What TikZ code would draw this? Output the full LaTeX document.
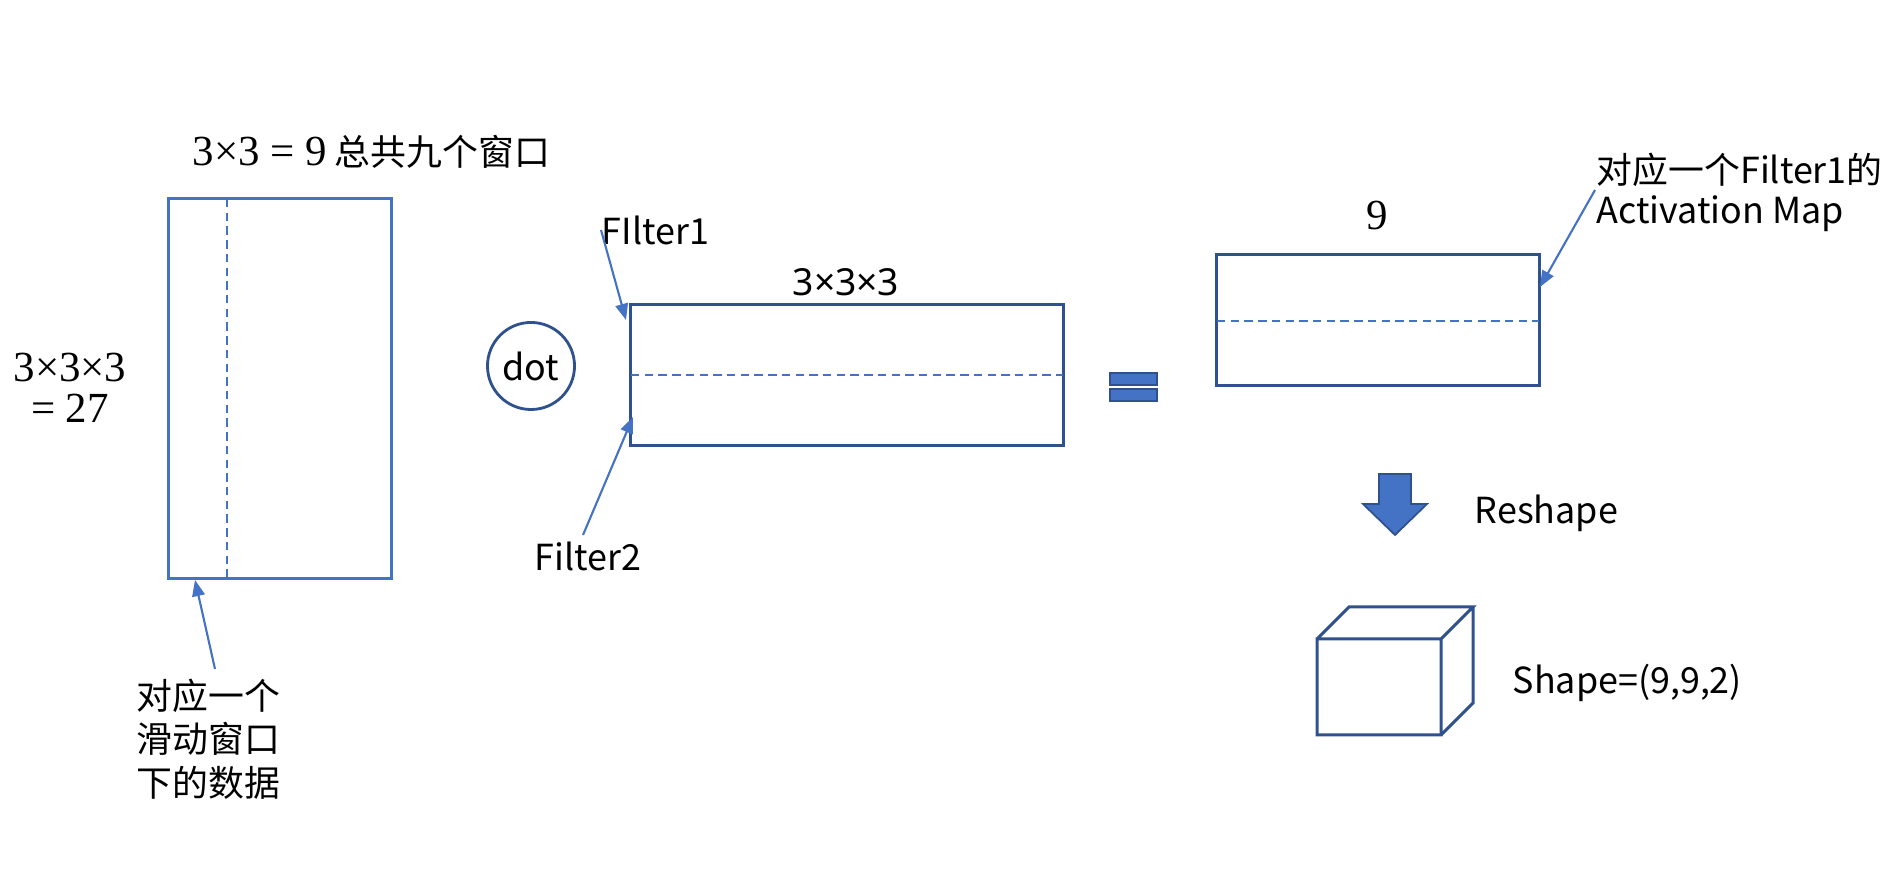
\documentclass[tikz,border=0pt]{standalone}
\usepackage{fontspec}
\setmainfont{Noto Sans CJK SC}
\newfontfamily\numfont{Liberation Serif}
\newfontfamily\latinsans{Noto Sans}
\usetikzlibrary{arrows.meta}
\definecolor{accent}{HTML}{4472C4}
\definecolor{outline}{HTML}{2F528F}
\begin{document}
\begin{tikzpicture}[x=0.01cm,y=-0.01cm,
  txt/.style={font=\fontsize{10.2}{12.4}\selectfont, inner sep=0pt, text=black},
  numtxt/.style={font=\numfont\fontsize{12.2}{11.7}\selectfont, inner sep=0pt, text=black},
  block/.style={draw=outline, line width=0.85pt, inner sep=0pt},
  split/.style={draw=accent, line width=0.7pt, dash pattern=on 2.4pt off 1.5pt},
  pointer/.style={draw=accent, line width=0.6pt, -{Triangle[length=4.6pt,width=3.6pt]}},
  solidfill/.style={fill=accent, draw=outline, line width=0.5pt}]
\useasboundingbox (0,0) rectangle (1900,874);

% input matrix: one column per sliding window
\node[block, draw=accent, minimum width=2.22cm, minimum height=3.79cm] (data) at (280,388.5) {};
\draw[split] (227,199) -- (227,578);
\node[txt, anchor=west] (title) at (192,152) {{\numfont\fontsize{12.2}{14}\selectfont 3×3 = 9} 总共九个窗口};
\node[numtxt, align=center] (depth) at (70,388) {3×3×3\\= 27};

% window annotation below the matrix
\node[txt, anchor=west, align=left] (win) at (136,739) {对应一个\\滑动窗口\\下的数据};
\coordinate (winStart) at (215,669);
\coordinate (winEnd) at (195,580);
\draw[pointer] (winStart) -- (winEnd);

% dot operator
\node[draw=outline, line width=0.8pt, circle, minimum size=0.87cm, inner sep=0pt, txt] (dot) at (531,366) {dot};

% filter matrix
\node[block, minimum width=4.32cm, minimum height=1.40cm] (filt) at (847,375) {};
\draw[split] (631,375) -- (1063,375);
\node[txt, font=\latinsans\fontsize{10.6}{12.4}\selectfont] (fdim) at (846,282) {3×3×3};
\node[txt, anchor=west] (f1) at (601,230) {FIlter1};
\node[txt, anchor=west] (f2) at (534,556) {Filter2};
\coordinate (f1End) at (626,320);
\coordinate (f2Start) at (583,535);
\coordinate (f2End) at (633,417);
\draw[pointer] (f1.west) -- (f1End);
\draw[pointer] (f2Start) -- (f2End);

% equals sign
\path[solidfill] (1110,373) rectangle (1157,385);
\path[solidfill] (1110,389) rectangle (1157,401);

% activation map
\node[block, minimum width=3.22cm, minimum height=1.30cm] (act) at (1378,320) {};
\draw[split] (1217,321) -- (1539,321);
\node[numtxt] (nine) at (1377,216) {9};
\node[txt, anchor=west, align=left, font=\fontsize{10.2}{11.4}\selectfont] (ann) at (1596,192) {对应一个Filter1的\\Activation Map};
\coordinate (annEnd) at (1540,287);
\draw[pointer] (1595,190) -- (annEnd);

% reshape step
\path[solidfill] (1379,474) -- (1411,474) -- (1411,504) -- (1427,504) -- (1395,535)
  -- (1363,504) -- (1379,504) -- cycle;
\node[txt, anchor=west] (reshape) at (1474,513) {Reshape};

% output volume
\draw[outline, line width=0.85pt, line join=miter]
  (1317,639) rectangle (1441,735)
  (1317,639) -- (1349,607) -- (1473,607) -- (1441,639)
  (1473,607) -- (1473,703) -- (1441,735);
\node[txt, anchor=west] (shape) at (1512,683) {Shape=(9,9,2)};
\end{tikzpicture}
\end{document}
